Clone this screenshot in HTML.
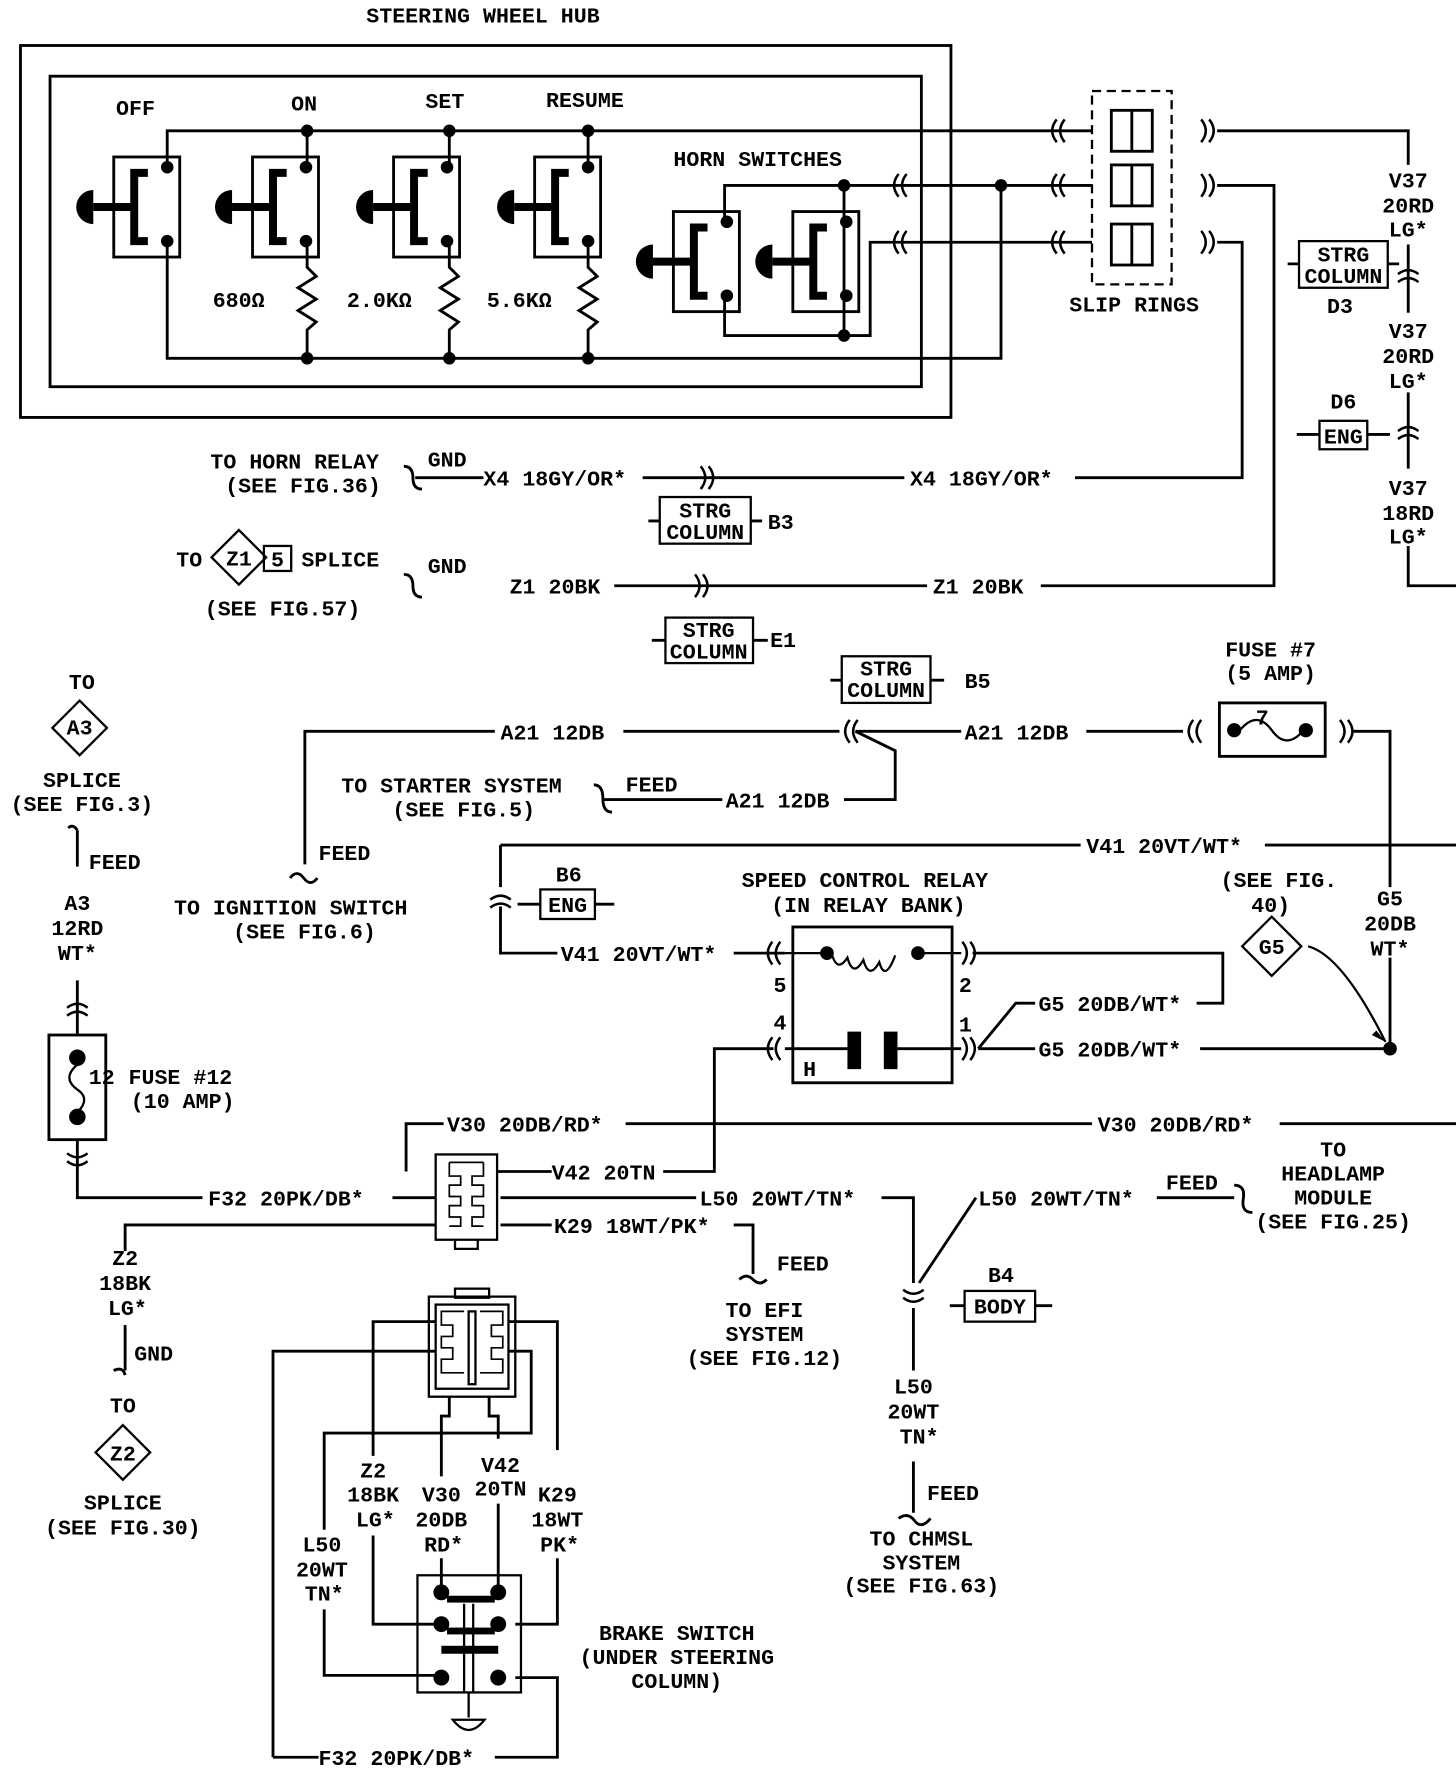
<!DOCTYPE html>
<html><head><meta charset="utf-8"><style>
html,body{margin:0;padding:0;background:#fff}
svg{display:block}
text{font-family:"Liberation Mono",monospace;font-weight:bold;font-size:19px;fill:#000}
.m{text-anchor:middle}
</style></head><body>
<svg width="1456" height="1780" viewBox="0 0 1280 1565" preserveAspectRatio="none" xmlns="http://www.w3.org/2000/svg">
<defs>
<path id="cl" d="M7,-10 Q-1,0 7,10 M14,-10 Q6,0 14,10" fill="none" stroke="#000" stroke-width="2.2"/>
<path id="cr" d="M-7,-10 Q1,0 -7,10 M-14,-10 Q-6,0 -14,10" fill="none" stroke="#000" stroke-width="2.2"/>
<path id="cu" d="M-9,6 Q0,-1 9,6 M-9,13 Q0,6 9,13" fill="none" stroke="#000" stroke-width="2.2"/>
<path id="cd" d="M-9,-6 Q0,1 9,-6 M-9,-13 Q0,-6 9,-13" fill="none" stroke="#000" stroke-width="2.2"/>
<g id="sw">
<rect x="0" y="0" width="58" height="88" fill="none" stroke="#000" stroke-width="2.5"/>
<path d="M30,14 H18 V74 H30" fill="none" stroke="#000" stroke-width="7"/>
<path d="M18,44 H-18" stroke="#000" stroke-width="7"/>
<path d="M-18,29 A15,15 0 0 0 -18,59 Z" fill="#000"/>
<circle cx="47" cy="9" r="5.5"/><circle cx="47" cy="74" r="5.5"/>
</g>
</defs>
<g fill="none" stroke="#000" stroke-width="2.5">
<rect x="18" y="40" width="818" height="327"/>
<rect x="44" y="67" width="766" height="273"/>
<path d="M147,147 V115 H960 M147,212 V315 H880 V163"/>
<path d="M270,115 V147 M270,212 V235 l8,8 -16,10 16,10 -16,10 16,10 -8,7 V315"/>
<path d="M395,115 V147 M395,212 V235 l8,8 -16,10 16,10 -16,10 16,10 -8,7 V315"/>
<path d="M517,115 V147 M517,212 V235 l8,8 -16,10 16,10 -16,10 16,10 -8,7 V315"/>
<path d="M637,196 V163 H960 M742,163 V295 H637 V262 M742,295 H765 V213 H960"/>
<path d="M1070,115 H1238 V145 M1238,215 V275 M1238,345 V412 M1238,480 V515 H1280"/>
<path d="M1070,163 H1120 V515 H915 M1070,213 H1092 V420 H945"/>
<rect x="960" y="80" width="70" height="170" stroke-dasharray="8,5" stroke-width="2"/>
<rect x="977" y="97" width="36" height="36"/><path d="M995,97 V133"/>
<rect x="977" y="145" width="36" height="36"/><path d="M995,145 V181"/>
<rect x="977" y="197" width="36" height="36"/><path d="M995,197 V233"/>
<rect x="1142" y="212" width="78" height="41" stroke-width="2"/><path d="M1132,232 H1142 M1220,232 H1230"/>
<rect x="1160" y="370" width="42" height="25" stroke-width="2"/><path d="M1140,382 H1160 M1202,382 H1222"/>
<path d="M365,420 H425 M565,420 H795 M355,410 q8,0 8,10 t8,10"/>
<rect x="580" y="437" width="80" height="41" stroke-width="2"/><path d="M570,458 H580 M660,458 H670"/>
<path d="M540,515 H815 M355,505 q8,0 8,10 t8,10"/>
<rect x="585" y="543" width="77" height="40" stroke-width="2"/><path d="M573,563 H585 M662,563 H675"/>
<path d="M186,490 L210,466 234,490 210,514 Z" stroke-width="2"/><rect x="232" y="480" width="24" height="22" stroke-width="2"/>
<rect x="740" y="577" width="78" height="41" stroke-width="2"/><path d="M730,598 H740 M818,598 H830"/>
<path d="M268,760 V643 H435 M548,643 H738 M752,643 L787,660 V703 H742 M752,643 H845 M955,643 H1040 M1190,643 H1222 V780 M1222,842 V922 H1055"/>
<path d="M255,772 q6,-8 12,0 t12,0 M522,690 q8,0 8,12 t8,12 M530,703 H635"/>
<rect x="1072" y="618" width="93" height="47"/>
<circle cx="1085" cy="642" r="5" fill="#000"/><circle cx="1148" cy="642" r="5" fill="#000"/>
<path d="M1090,642 q15,-18 28,0 t28,0" stroke-width="2"/>
<path d="M440,743 H950 M1112,743 H1280 M440,743 V780 M440,797 V838 H490 M645,838 H690"/>
<rect x="475" y="782" width="48" height="26" stroke-width="2"/><path d="M455,795 H475 M523,795 H540"/>
<rect x="697" y="815" width="140" height="137"/>
<path d="M690,838 H727 M807,838 H845 M731,838 q5,18 14,4 q5,18 14,2 q5,18 14,2 q5,18 14,-6" stroke-width="2"/>
<path d="M690,922 H752 M786,922 H845"/>
<path d="M860,922 L893,882 H910 M860,922 H910 M855,838 H1075 V882 H1052"/>
<path d="M1092,832 L1118,806 1144,832 1118,858 Z" stroke-width="2"/>
<path d="M1150,832 Q1180,840 1218,916" stroke-width="2"/>
<path d="M680,922 H628 V1030 H583 M485,1030 H437"/>
<path d="M357,1030 V988 H390 M550,988 H960 M1125,988 H1280"/>
<rect x="383" y="1015" width="54" height="75" stroke-width="2"/>
<path d="M395,1022 h30 M395,1022 v12 h10 v8 h-10 v10 h10 v8 h-10 v10 h10 v8 h-10 M425,1022 v12 h-10 v8 h10 v10 h-10 v8 h10 v10 h-10 v8 h10" stroke-width="1.5"/>
<path d="M400,1090 v8 h20 v-8" stroke-width="2"/>
<path d="M68,730 V762 M60,728 q4,-4 8,2 M68,862 V910 M68,1002 V1053 H178 M345,1053 H383"/>
<rect x="43" y="910" width="50" height="92"/>
<circle cx="68" cy="930" r="6" fill="#000"/><circle cx="68" cy="982" r="6" fill="#000"/>
<path d="M68,936 q-14,12 0,22 q12,8 0,20" stroke-width="2"/>
<path d="M46,640 L70,616 94,640 70,664 Z" stroke-width="2"/>
<path d="M440,1053 H612 M775,1053 H803 V1128 M858,1053 L808,1128 M803,1150 V1205 M803,1285 V1330 M790,1335 q8,-6 14,2 t14,-2"/>
<path d="M1085,1042 q10,0 8,12 t8,12 M1017,1053 H1085"/>
<rect x="848" y="1135" width="62" height="27" stroke-width="2"/><path d="M835,1148 H848 M910,1148 H925"/>
<path d="M440,1077 H485 M645,1077 H662 V1120 M650,1125 q6,-6 12,0 t12,0 M110,1100 V1077 H383 M110,1165 V1205 M100,1205 q8,-4 10,4"/>
<path d="M84,1277 L108,1253 132,1277 108,1301 Z" stroke-width="2"/>
<rect x="377" y="1140" width="76" height="88" stroke-width="2"/>
<rect x="383" y="1147" width="64" height="74" stroke-width="2"/>
<rect x="400" y="1133" width="30" height="8" stroke-width="2"/>
<rect x="412" y="1153" width="6" height="64" stroke-width="2"/>
<path d="M408,1153 h-20 v12 h10 v10 h-10 v10 h10 v10 h-10 v12 h20 M422,1153 h20 v12 h-10 v10 h10 v10 h-10 v10 h10 v12 h-20" stroke-width="1.5"/>
<path d="M328,1280 V1162 H383 M447,1162 H490 V1275 M490,1370 V1428 H453 M240,1545 V1188 H383 M280,1545 H240 M435,1545 H490 V1475 H453 M285,1345 V1260 H467 V1188 H447 M285,1415 V1473 H383 M395,1228 V1245 H388 V1298 M388,1370 V1395 M430,1228 V1245 H438 V1265 M438,1322 V1395 M328,1350 V1428 H383"/>
<rect x="367" y="1385" width="91" height="103" stroke-width="2"/>
<path d="M408,1410 V1488 M416,1410 V1488" stroke-width="2"/>
<path d="M412,1488 V1510 M398,1512 Q412,1530 426,1512 Z" stroke-width="2"/>
</g>
<g fill="#000">
<circle cx="270" cy="115" r="5.5"/><circle cx="395" cy="115" r="5.5"/><circle cx="517" cy="115" r="5.5"/>
<circle cx="270" cy="315" r="5.5"/><circle cx="395" cy="315" r="5.5"/><circle cx="517" cy="315" r="5.5"/>
<circle cx="742" cy="163" r="5.5"/><circle cx="880" cy="163" r="5.5"/><circle cx="742" cy="295" r="5.5"/>
<circle cx="727" cy="838" r="6"/><circle cx="807" cy="838" r="6"/>
<rect x="745" y="907" width="12" height="33"/><rect x="777" y="907" width="12" height="33"/>
<circle cx="1222" cy="922" r="6"/>
<path d="M1218,916 l-12,-6 4,-4 z"/>
<circle cx="388" cy="1400" r="7"/><circle cx="438" cy="1400" r="7"/>
<circle cx="388" cy="1428" r="7"/><circle cx="438" cy="1428" r="7"/>
<circle cx="388" cy="1475" r="7"/><circle cx="438" cy="1475" r="7"/>
<rect x="393" y="1403" width="42" height="6"/><rect x="393" y="1431" width="42" height="6"/><rect x="388" y="1447" width="50" height="7"/>
</g>
<use href="#sw" x="100" y="138"/><use href="#sw" x="222" y="138"/><use href="#sw" x="346" y="138"/><use href="#sw" x="470" y="138"/>
<use href="#sw" x="592" y="186"/><use href="#sw" x="697" y="186"/>
<use href="#cl" x="783" y="163"/><use href="#cl" x="783" y="213"/>
<use href="#cl" x="922" y="115"/><use href="#cl" x="922" y="163"/><use href="#cl" x="922" y="213"/>
<use href="#cr" x="1070" y="115"/><use href="#cr" x="1070" y="163"/><use href="#cr" x="1070" y="213"/>
<use href="#cr" x="630" y="420"/><use href="#cr" x="625" y="515"/>
<use href="#cl" x="740" y="643"/><use href="#cl" x="1042" y="643"/><use href="#cr" x="1192" y="643"/>
<use href="#cl" x="672" y="838"/><use href="#cl" x="672" y="922"/><use href="#cr" x="860" y="838"/><use href="#cr" x="860" y="922"/>
<use href="#cu" x="1238" y="235"/><use href="#cu" x="1238" y="373"/><use href="#cu" x="440" y="785"/>
<use href="#cu" x="68" y="880"/><use href="#cd" x="68" y="1027"/><use href="#cd" x="803" y="1147"/>
<text x="322" y="20">STEERING WHEEL HUB</text>
<text x="102" y="101">OFF</text><text x="256" y="97">ON</text><text x="374" y="95">SET</text><text x="480" y="94">RESUME</text>
<text x="592" y="146">HORN SWITCHES</text>
<text x="187" y="270">680Ω</text><text x="305" y="270">2.0KΩ</text><text x="428" y="270">5.6KΩ</text>
<text x="940" y="274">SLIP RINGS</text>
<text class="m" x="1238" y="165">V37</text><text class="m" x="1238" y="187">20RD</text><text class="m" x="1238" y="208">LG*</text>
<text class="m" x="1181" y="230" font-size="17">STRG</text><text class="m" x="1181" y="249" font-size="17">COLUMN</text><text class="m" x="1178" y="275">D3</text>
<text class="m" x="1238" y="297">V37</text><text class="m" x="1238" y="319">20RD</text><text class="m" x="1238" y="341">LG*</text>
<text class="m" x="1181" y="359">D6</text><text class="m" x="1181" y="390">ENG</text>
<text class="m" x="1238" y="435">V37</text><text class="m" x="1238" y="457">18RD</text><text class="m" x="1238" y="478">LG*</text>
<text x="185" y="412">TO HORN RELAY</text><text x="198" y="433">(SEE FIG.36)</text><text x="376" y="410">GND</text>
<text x="425" y="427">X4 18GY/OR*</text><text x="800" y="427">X4 18GY/OR*</text>
<text class="m" x="620" y="455" font-size="17">STRG</text><text class="m" x="620" y="474" font-size="17">COLUMN</text><text x="675" y="465">B3</text>
<text x="155" y="498">TO</text><text class="m" x="210" y="497" font-size="17">Z1</text><text class="m" x="244" y="498" font-size="17">5</text><text x="265" y="498">SPLICE</text>
<text x="180" y="541">(SEE FIG.57)</text><text x="376" y="504">GND</text>
<text x="448" y="522">Z1 20BK</text><text x="820" y="522">Z1 20BK</text>
<text class="m" x="623" y="560" font-size="17">STRG</text><text class="m" x="623" y="579" font-size="17">COLUMN</text><text x="677" y="569">E1</text>
<text class="m" x="779" y="594" font-size="17">STRG</text><text class="m" x="779" y="613" font-size="17">COLUMN</text><text x="848" y="605">B5</text>
<text class="m" x="1117" y="577">FUSE #7</text><text class="m" x="1117" y="598">(5 AMP)</text><text x="1104" y="637" font-size="15">7</text>
<text x="440" y="650">A21 12DB</text><text x="848" y="650">A21 12DB</text>
<text x="300" y="697">TO STARTER SYSTEM</text><text x="345" y="718">(SEE FIG.5)</text><text x="550" y="696">FEED</text><text x="638" y="710">A21 12DB</text>
<text x="280" y="756">FEED</text><text x="153" y="804">TO IGNITION SWITCH</text><text x="205" y="825">(SEE FIG.6)</text>
<text class="m" x="72" y="606">TO</text><text class="m" x="70" y="646" font-size="17">A3</text><text class="m" x="72" y="692">SPLICE</text><text class="m" x="72" y="713">(SEE FIG.3)</text>
<text x="78" y="764">FEED</text>
<text class="m" x="68" y="800">A3</text><text class="m" x="68" y="822">12RD</text><text class="m" x="68" y="844">WT*</text>
<text x="78" y="953">12</text><text x="113" y="953">FUSE #12</text><text x="115" y="974">(10 AMP)</text>
<text x="955" y="750">V41 20VT/WT*</text>
<text class="m" x="500" y="775">B6</text><text class="m" x="499" y="802">ENG</text>
<text x="493" y="845">V41 20VT/WT*</text>
<text x="652" y="780">SPEED CONTROL RELAY</text><text x="678" y="802">(IN RELAY BANK)</text>
<text x="680" y="872">5</text><text x="843" y="872">2</text><text x="680" y="905">4</text><text x="843" y="907">1</text><text x="706" y="946">H</text>
<text x="1073" y="780">(SEE FIG.</text><text x="1100" y="802">40)</text><text class="m" x="1118" y="839" font-size="17">G5</text>
<text class="m" x="1222" y="796">G5</text><text class="m" x="1222" y="818">20DB</text><text class="m" x="1222" y="840">WT*</text>
<text x="913" y="889">G5 20DB/WT*</text><text x="913" y="929">G5 20DB/WT*</text>
<text x="393" y="995">V30 20DB/RD*</text><text x="965" y="995">V30 20DB/RD*</text>
<text x="485" y="1037">V42 20TN</text>
<text x="183" y="1060">F32 20PK/DB*</text><text x="615" y="1060">L50 20WT/TN*</text><text x="860" y="1060">L50 20WT/TN*</text>
<text x="1025" y="1046">FEED</text>
<text class="m" x="1172" y="1017">TO</text><text class="m" x="1172" y="1038">HEADLAMP</text><text class="m" x="1172" y="1059">MODULE</text><text class="m" x="1172" y="1080">(SEE FIG.25)</text>
<text x="487" y="1084">K29 18WT/PK*</text>
<text x="683" y="1117">FEED</text><text class="m" x="672" y="1158">TO EFI</text><text class="m" x="672" y="1179">SYSTEM</text><text class="m" x="672" y="1200">(SEE FIG.12)</text>
<text class="m" x="880" y="1127">B4</text><text class="m" x="879" y="1155">BODY</text>
<text class="m" x="803" y="1225">L50</text><text class="m" x="803" y="1247">20WT</text><text class="m" x="808" y="1269">TN*</text>
<text x="815" y="1319">FEED</text><text class="m" x="810" y="1359">TO CHMSL</text><text class="m" x="810" y="1380">SYSTEM</text><text class="m" x="810" y="1400">(SEE FIG.63)</text>
<text class="m" x="110" y="1112">Z2</text><text class="m" x="110" y="1134">18BK</text><text class="m" x="112" y="1156">LG*</text>
<text x="118" y="1196">GND</text><text class="m" x="108" y="1242">TO</text><text class="m" x="108" y="1284" font-size="17">Z2</text>
<text class="m" x="108" y="1327">SPLICE</text><text class="m" x="108" y="1349">(SEE FIG.30)</text>
<text class="m" x="328" y="1299">Z2</text><text class="m" x="328" y="1320">18BK</text><text class="m" x="330" y="1342">LG*</text>
<text class="m" x="440" y="1294">V42</text><text class="m" x="440" y="1315">20TN</text>
<text class="m" x="388" y="1320">V30</text><text class="m" x="388" y="1342">20DB</text><text class="m" x="390" y="1364">RD*</text>
<text class="m" x="490" y="1320">K29</text><text class="m" x="490" y="1342">18WT</text><text class="m" x="492" y="1364">PK*</text>
<text class="m" x="283" y="1364">L50</text><text class="m" x="283" y="1386">20WT</text><text class="m" x="285" y="1407">TN*</text>
<text class="m" x="595" y="1442">BRAKE SWITCH</text><text class="m" x="595" y="1463">(UNDER STEERING</text><text class="m" x="595" y="1484">COLUMN)</text>
<text x="280" y="1552">F32 20PK/DB*</text>
</svg>
</body></html>
